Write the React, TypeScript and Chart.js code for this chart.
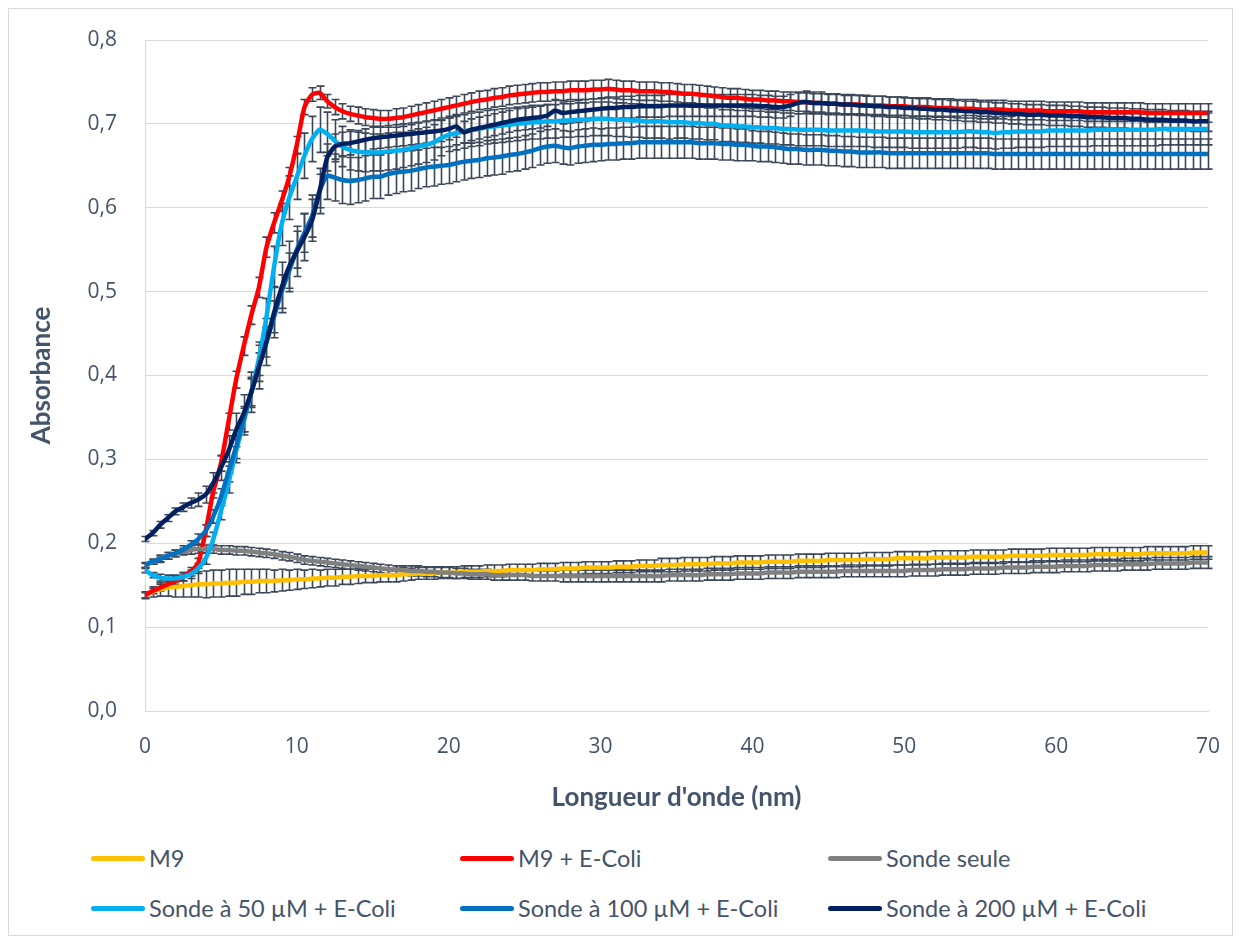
import React, { useEffect, useRef } from "react";
import { Chart, registerables } from "chart.js";

Chart.register(...registerables);

// Wavelength sampling (nm)
const xValues = [
  0, 0.5, 1, 1.5, 2, 2.5, 3, 3.5, 4, 4.5, 5, 5.5, 6, 6.5, 7, 7.5, 8, 8.5, 9, 9.5,
  10, 10.5, 11, 11.5, 12, 12.5, 13, 13.5, 14, 14.5, 15, 15.5, 16, 16.5, 17, 17.5, 18, 18.5, 19, 19.5,
  20, 20.5, 21, 21.5, 22, 22.5, 23, 23.5, 24, 24.5, 25, 25.5, 26, 26.5, 27, 27.5, 28, 28.5, 29, 29.5,
  30, 30.5, 31, 31.5, 32, 32.5, 33, 33.5, 34, 34.5, 35, 35.5, 36, 36.5, 37, 37.5, 38, 38.5, 39, 39.5,
  40, 40.5, 41, 41.5, 42, 42.5, 43, 43.5, 44, 44.5, 45, 45.5, 46, 46.5, 47, 47.5, 48, 48.5, 49, 49.5,
  50, 50.5, 51, 51.5, 52, 52.5, 53, 53.5, 54, 54.5, 55, 55.5, 56, 56.5, 57, 57.5, 58, 58.5, 59, 59.5,
  60, 60.5, 61, 61.5, 62, 62.5, 63, 63.5, 64, 64.5, 65, 65.5, 66, 66.5, 67, 67.5, 68, 68.5, 69, 69.5,
  70,
];

const m9 = [
  .138, .142, .145, .147, .148, .149, .150, .151, .151, .152,
  .152, .153, .153, .154, .154, .155, .155, .155, .156, .156,
  .157, .157, .158, .158, .159, .159, .160, .160, .161, .161,
  .161, .162, .162, .162, .163, .163, .164, .164, .164, .165,
  .165, .165, .166, .166, .166, .167, .167, .167, .168, .168,
  .168, .168, .169, .169, .169, .170, .170, .170, .171, .171,
  .171, .171, .172, .172, .172, .173, .173, .173, .174, .174,
  .174, .175, .175, .175, .175, .176, .176, .176, .177, .177,
  .177, .177, .178, .178, .178, .178, .179, .179, .179, .179,
  .180, .180, .180, .180, .180, .181, .181, .181, .181, .182,
  .182, .182, .182, .182, .183, .183, .183, .183, .183, .184,
  .184, .184, .184, .184, .185, .185, .185, .185, .185, .186,
  .186, .186, .186, .186, .186, .187, .187, .187, .187, .187,
  .187, .187, .188, .188, .188, .188, .188, .188, .189, .189,
  .189,
];
const m9Err = [
  .004, .006, .008, .010, .012, .013, .014, .015, .016, .016,
  .016, .016, .016, .015, .015, .014, .014, .013, .013, .012,
  .012, .011, .011, .010, .010, .010, .009, .009, .009, .008,
  .008, .008, .008, .008, .008, .007, .007, .007, .007, .007,
  .007, .007, .007, .007, .007, .007, .007, .007, .007, .007,
  .007, .007, .007, .007, .007, .007, .007, .007, .007, .007,
  .007, .007, .007, .007, .007, .007, .007, .007, .008, .008,
  .008, .008, .008, .008, .008, .008, .008, .008, .008, .008,
  .008, .008, .008, .008, .008, .008, .008, .008, .008, .008,
  .008, .008, .008, .008, .008, .008, .008, .008, .008, .008,
  .008, .008, .008, .008, .008, .008, .008, .008, .008, .008,
  .008, .008, .008, .008, .008, .008, .008, .008, .008, .008,
  .008, .008, .008, .008, .008, .008, .008, .008, .008, .008,
  .008, .008, .008, .008, .008, .008, .008, .008, .008, .008,
  .008,
];

const m9Ecoli = [
  .138, .143, .147, .151, .155, .160, .166, .176, .215, .262,
  .295, .345, .395, .435, .472, .505, .553, .582, .608, .637,
  .675, .720, .735, .737, .727, .720, .715, .712, .710, .708,
  .707, .706, .706, .707, .708, .710, .712, .714, .716, .718,
  .720, .722, .724, .726, .728, .729, .731, .732, .734, .735,
  .736, .737, .738, .738, .739, .739, .740, .740, .740, .741,
  .741, .742, .741, .740, .740, .739, .739, .739, .738, .738,
  .737, .736, .736, .735, .734, .733, .732, .731, .731, .730,
  .729, .729, .728, .728, .727, .727, .726, .726, .725, .725,
  .724, .724, .723, .723, .723, .722, .722, .722, .721, .721,
  .721, .720, .720, .720, .719, .719, .719, .718, .718, .718,
  .717, .717, .717, .717, .716, .716, .716, .716, .716, .715,
  .715, .715, .715, .715, .714, .714, .714, .714, .714, .714,
  .714, .714, .713, .713, .713, .713, .713, .713, .713, .713,
  .713,
];
const m9EcoliErr = [
  .003, .003, .004, .004, .004, .005, .005, .006, .007, .008,
  .009, .010, .010, .011, .011, .012, .012, .012, .012, .011,
  .010, .009, .008, .008, .008, .009, .009, .009, .010, .010,
  .010, .010, .010, .011, .011, .011, .011, .011, .011, .011,
  .011, .011, .011, .011, .011, .011, .011, .011, .011, .011,
  .011, .011, .011, .011, .011, .011, .011, .011, .011, .011,
  .011, .011, .011, .011, .011, .011, .011, .011, .011, .011,
  .011, .011, .011, .011, .011, .011, .011, .011, .011, .011,
  .011, .011, .011, .011, .011, .011, .011, .011, .011, .011,
  .011, .011, .011, .011, .011, .011, .011, .011, .011, .011,
  .011, .011, .011, .011, .011, .011, .011, .011, .011, .011,
  .011, .011, .011, .011, .011, .011, .011, .011, .011, .011,
  .011, .011, .011, .011, .011, .011, .011, .011, .011, .011,
  .011, .011, .011, .011, .011, .011, .011, .011, .011, .011,
  .011,
];

const sondeSeule = [
  .173, .178, .182, .185, .188, .190, .192, .193, .193, .193,
  .192, .192, .191, .191, .190, .189, .188, .187, .185, .184,
  .182, .180, .179, .178, .177, .176, .175, .174, .173, .172,
  .171, .170, .169, .168, .168, .167, .167, .166, .166, .165,
  .165, .164, .164, .163, .163, .163, .162, .162, .162, .162,
  .162, .161, .161, .161, .161, .161, .161, .161, .161, .161,
  .161, .161, .161, .161, .161, .161, .161, .161, .161, .162,
  .162, .162, .162, .162, .163, .163, .163, .163, .164, .164,
  .164, .164, .165, .165, .165, .165, .166, .166, .166, .166,
  .166, .166, .167, .167, .167, .167, .167, .167, .167, .167,
  .167, .168, .168, .168, .168, .169, .169, .169, .169, .170,
  .170, .170, .170, .171, .171, .171, .171, .172, .172, .172,
  .172, .173, .173, .173, .173, .174, .174, .174, .174, .175,
  .175, .175, .175, .176, .176, .176, .176, .176, .177, .177,
  .177,
];
const sondeSeuleErr = [
  .003, .003, .004, .004, .004, .004, .005, .005, .005, .005,
  .005, .005, .005, .005, .005, .005, .005, .005, .005, .005,
  .005, .005, .005, .005, .005, .005, .005, .005, .005, .005,
  .005, .005, .005, .005, .005, .006, .006, .006, .006, .006,
  .006, .006, .006, .006, .006, .006, .006, .006, .006, .006,
  .006, .006, .006, .006, .006, .007, .007, .007, .007, .007,
  .007, .007, .007, .007, .007, .007, .007, .007, .007, .007,
  .007, .007, .007, .007, .007, .007, .007, .007, .007, .007,
  .007, .007, .007, .007, .007, .007, .007, .007, .007, .007,
  .007, .007, .007, .007, .007, .007, .007, .007, .007, .007,
  .007, .007, .007, .007, .007, .007, .007, .007, .007, .007,
  .007, .007, .007, .007, .007, .007, .007, .007, .007, .007,
  .007, .007, .007, .007, .007, .007, .007, .007, .007, .007,
  .007, .007, .007, .007, .007, .007, .007, .007, .007, .007,
  .007,
];

const sonde50 = [
  .168, .162, .159, .158, .158, .160, .163, .170, .182, .205,
  .238, .272, .310, .345, .380, .420, .470, .530, .580, .612,
  .637, .662, .682, .693, .688, .680, .673, .669, .667, .666,
  .666, .666, .667, .668, .669, .671, .673, .675, .678, .683,
  .687, .689, .691, .693, .694, .696, .697, .698, .699, .700,
  .701, .702, .702, .703, .703, .704, .704, .705, .705, .706,
  .706, .706, .705, .705, .704, .704, .703, .703, .703, .702,
  .702, .702, .701, .701, .700, .700, .698, .698, .697, .697,
  .696, .696, .695, .695, .694, .694, .693, .693, .693, .693,
  .692, .692, .692, .692, .692, .692, .691, .691, .691, .691,
  .691, .690, .690, .690, .690, .690, .690, .690, .691, .691,
  .690, .690, .689, .690, .690, .691, .691, .691, .691, .692,
  .692, .692, .692, .692, .692, .693, .693, .693, .693, .693,
  .693, .693, .693, .693, .694, .694, .694, .694, .694, .694,
  .694,
];
const sonde50Err = [
  .003, .003, .004, .004, .004, .005, .005, .006, .007, .008,
  .010, .012, .014, .016, .018, .020, .022, .024, .025, .026,
  .027, .027, .027, .027, .026, .025, .024, .024, .023, .023,
  .022, .022, .022, .022, .021, .021, .021, .021, .021, .021,
  .020, .020, .020, .020, .020, .020, .020, .020, .020, .020,
  .020, .020, .020, .020, .020, .020, .020, .020, .020, .020,
  .020, .020, .020, .020, .020, .020, .020, .020, .020, .020,
  .019, .019, .019, .019, .019, .019, .019, .019, .019, .019,
  .019, .019, .019, .019, .019, .019, .019, .019, .019, .019,
  .019, .019, .019, .019, .019, .019, .019, .019, .019, .019,
  .019, .019, .019, .019, .019, .019, .019, .019, .019, .019,
  .019, .019, .019, .019, .019, .019, .019, .019, .019, .019,
  .019, .019, .019, .019, .019, .019, .019, .019, .019, .019,
  .019, .019, .019, .019, .019, .019, .019, .019, .019, .019,
  .019,
];

const sonde100 = [
  .174, .178, .181, .185, .188, .192, .198, .205, .215, .232,
  .255, .285, .315, .348, .380, .410, .440, .470, .500, .525,
  .550, .570, .590, .620, .638, .636, .633, .632, .633, .635,
  .637, .637, .640, .642, .643, .644, .646, .648, .649, .650,
  .651, .653, .655, .656, .657, .659, .660, .661, .663, .664,
  .666, .668, .671, .673, .674, .672, .671, .673, .674, .675,
  .675, .676, .676, .677, .677, .678, .678, .678, .678, .678,
  .678, .678, .678, .677, .677, .677, .676, .676, .675, .675,
  .674, .673, .673, .672, .671, .670, .670, .669, .669, .669,
  .668, .668, .667, .667, .666, .666, .666, .666, .665, .665,
  .665, .665, .665, .665, .665, .665, .665, .665, .665, .665,
  .665, .665, .664, .664, .664, .664, .664, .664, .664, .664,
  .664, .664, .664, .664, .664, .664, .664, .664, .664, .664,
  .664, .664, .664, .664, .664, .664, .664, .664, .664, .664,
  .664,
];
const sonde100Err = [
  .003, .003, .004, .004, .004, .005, .005, .006, .007, .008,
  .010, .012, .014, .015, .016, .017, .018, .019, .020, .021,
  .022, .023, .025, .027, .028, .028, .028, .028, .027, .027,
  .026, .026, .025, .025, .024, .024, .023, .023, .023, .022,
  .022, .022, .022, .021, .021, .021, .021, .021, .020, .020,
  .020, .020, .020, .020, .020, .020, .020, .020, .020, .020,
  .019, .019, .019, .019, .019, .019, .019, .019, .019, .019,
  .019, .019, .019, .019, .019, .019, .019, .019, .019, .019,
  .018, .018, .018, .018, .018, .018, .018, .018, .018, .018,
  .018, .018, .018, .018, .018, .018, .018, .018, .018, .018,
  .018, .018, .018, .018, .018, .018, .018, .018, .018, .018,
  .018, .018, .018, .018, .018, .018, .018, .018, .018, .018,
  .018, .018, .018, .018, .018, .018, .018, .018, .018, .018,
  .018, .018, .018, .018, .018, .018, .018, .018, .018, .018,
  .018,
];

const sonde200 = [
  .205, .212, .222, .230, .238, .243, .248, .252, .258, .272,
  .290, .310, .335, .355, .380, .410, .440, .475, .505, .530,
  .548, .565, .585, .620, .660, .673, .676, .677, .679, .681,
  .683, .684, .685, .686, .687, .688, .689, .690, .691, .692,
  .694, .697, .690, .693, .695, .697, .699, .701, .703, .705,
  .706, .707, .708, .710, .716, .713, .714, .715, .716, .717,
  .718, .719, .719, .720, .720, .721, .721, .721, .721, .722,
  .722, .722, .722, .722, .722, .722, .722, .722, .722, .722,
  .722, .721, .721, .720, .720, .722, .725, .726, .725, .725,
  .724, .724, .723, .723, .722, .722, .721, .721, .720, .720,
  .719, .719, .718, .718, .717, .717, .716, .716, .715, .715,
  .714, .714, .713, .713, .712, .712, .711, .711, .711, .710,
  .710, .710, .709, .709, .708, .708, .708, .707, .707, .707,
  .706, .706, .705, .705, .705, .704, .704, .704, .703, .703,
  .703,
];
const sonde200Err = [
  .003, .003, .004, .004, .004, .005, .006, .008, .010, .012,
  .015, .018, .020, .022, .024, .026, .028, .030, .030, .030,
  .030, .028, .025, .020, .016, .015, .014, .014, .013, .013,
  .013, .013, .013, .013, .013, .013, .013, .013, .013, .013,
  .013, .013, .013, .013, .013, .013, .013, .013, .013, .013,
  .013, .013, .013, .013, .013, .013, .013, .013, .013, .013,
  .013, .013, .013, .013, .013, .013, .013, .013, .013, .013,
  .013, .013, .013, .013, .013, .013, .013, .013, .013, .013,
  .013, .013, .013, .013, .013, .013, .013, .013, .013, .013,
  .012, .012, .012, .012, .012, .012, .012, .012, .012, .012,
  .012, .012, .012, .012, .012, .012, .012, .012, .012, .012,
  .012, .012, .012, .012, .012, .012, .012, .012, .012, .012,
  .012, .012, .012, .012, .012, .012, .012, .012, .012, .012,
  .012, .012, .012, .012, .012, .012, .012, .012, .012, .012,
  .012,
];

const seriesLabels = [
  "M9",
  "M9 + E-Coli",
  "Sonde seule",
  "Sonde à 50 µM + E-Coli",
  "Sonde à 100 µM + E-Coli",
  "Sonde à 200 µM + E-Coli",
];
const seriesColors = ["#FFC000", "#FF0000", "#808080", "#00B0F0", "#0070C0", "#002060"];
const seriesValues = [m9, m9Ecoli, sondeSeule, sonde50, sonde100, sonde200];
const seriesErrors = [m9Err, m9EcoliErr, sondeSeuleErr, sonde50Err, sonde100Err, sonde200Err];

const yTicks = [0, 0.1, 0.2, 0.3, 0.4, 0.5, 0.6, 0.7, 0.8];
const xTicks = [0, 10, 20, 30, 40, 50, 60, 70];

const TEXT_COLOR = "#44546A";

const errorBarPlugin = {
  id: "errorBars",
  beforeDatasetsDraw(chart: any) {
    const { ctx, scales } = chart;
    const xs = scales.x;
    const ys = scales.y;
    ctx.save();
    ctx.strokeStyle = "#3B4658";
    ctx.lineWidth = 1.6;
    const cap = 4;
    chart.data.datasets.forEach((ds: any) => {
      const errs: number[] = ds.errors;
      ds.data.forEach((pt: any, i: number) => {
        const e = errs[i];
        const px = Math.round(xs.getPixelForValue(pt.x)) + 0.5;
        const yTop = ys.getPixelForValue(pt.y + e);
        const yBot = ys.getPixelForValue(pt.y - e);
        ctx.beginPath();
        ctx.moveTo(px, yTop);
        ctx.lineTo(px, yBot);
        ctx.moveTo(px - cap, yTop);
        ctx.lineTo(px + cap, yTop);
        ctx.moveTo(px - cap, yBot);
        ctx.lineTo(px + cap, yBot);
        ctx.stroke();
      });
    });
    ctx.restore();
  },
};

export default function App() {
  const canvasRef = useRef<HTMLCanvasElement>(null);

  useEffect(() => {
    const canvas = canvasRef.current;
    if (!canvas) return;
    const datasets = seriesValues.map((vals, si) => ({
      label: seriesLabels[si],
      data: vals.map((v, i) => ({ x: xValues[i], y: v })),
      errors: seriesErrors[si],
      borderColor: seriesColors[si],
      backgroundColor: seriesColors[si],
      borderWidth: 4.5,
      pointRadius: 0,
      pointHoverRadius: 0,
      tension: 0.2,
      fill: false,
      order: seriesValues.length - si,
      borderCapStyle: "round" as const,
      borderJoinStyle: "round" as const,
    }));

    const chart = new Chart(canvas, {
      type: "line",
      data: { datasets: datasets as any },
      plugins: [errorBarPlugin],
      options: {
        responsive: false,
        animation: false,
        events: [],
        layout: { padding: { top: 31, right: 24, left: 0, bottom: 0 } },
        plugins: {
          legend: { display: false },
          tooltip: { enabled: false },
        },
        scales: {
          x: {
            type: "linear",
            min: 0,
            max: 70,
            afterBuildTicks: (s: any) => {
              s.ticks = xTicks.map((v) => ({ value: v }));
            },
            afterFit: (s: any) => {
              s.height = 118;
              s.paddingLeft = 0;
              s.paddingRight = 0;
            },
            grid: { display: false, drawTicks: false },
            border: { display: true, color: "#D9D9D9", width: 1 },
            ticks: {
              padding: 23,
              color: TEXT_COLOR,
              font: { family: "'Open Sans', sans-serif", size: 21 },
              maxRotation: 0,
              callback: (v: any) => String(v),
            },
            title: {
              display: true,
              text: "Longueur d'onde (nm)",
              color: TEXT_COLOR,
              font: { family: "Lato, sans-serif", size: 26, weight: "bold" },
              padding: { top: 0, bottom: 16 },
            },
          },
          y: {
            type: "linear",
            min: 0,
            max: 0.8,
            afterBuildTicks: (s: any) => {
              s.ticks = yTicks.map((v) => ({ value: v }));
            },
            afterFit: (s: any) => {
              s.width = 136;
              s.paddingTop = 0;
              s.paddingBottom = 0;
            },
            grid: { color: "#D9D9D9", lineWidth: 1, drawTicks: false },
            border: { display: true, color: "#D9D9D9", width: 1 },
            ticks: {
              padding: 28,
              color: TEXT_COLOR,
              font: { family: "'Open Sans', sans-serif", size: 21 },
              callback: (v: any) => Number(v).toFixed(1).replace(".", ","),
            },
            title: {
              display: true,
              text: "Absorbance",
              color: TEXT_COLOR,
              font: { family: "Lato, sans-serif", size: 26, weight: "bold" },
              padding: { top: 17, bottom: 0 },
            },
          },
        },
      },
    });
    return () => chart.destroy();
  }, []);

  const colLeft = [82, 451, 819];
  const rowTop = [835, 885];

  return (
    <div
      style={{
        position: "relative",
        width: 1225,
        height: 928,
        border: "1px solid #D9D9D9",
        boxSizing: "border-box",
        background: "#FFFFFF",
      }}
    >
      <canvas ref={canvasRef} width={1223} height={820} style={{ display: "block" }} />
      {seriesLabels.map((label, i) => (
        <div
          key={label}
          style={{
            position: "absolute",
            left: colLeft[i % 3],
            top: rowTop[Math.floor(i / 3)],
            height: 28,
            display: "flex",
            alignItems: "center",
            whiteSpace: "nowrap",
            fontFamily: "Lato, sans-serif",
            fontSize: 23.5,
            color: TEXT_COLOR,
          }}
        >
          <span
            style={{
              display: "inline-block",
              width: 54,
              height: 5,
              borderRadius: 3,
              background: seriesColors[i],
              marginRight: 4,
            }}
          />
          <span>{label}</span>
        </div>
      ))}
    </div>
  );
}
